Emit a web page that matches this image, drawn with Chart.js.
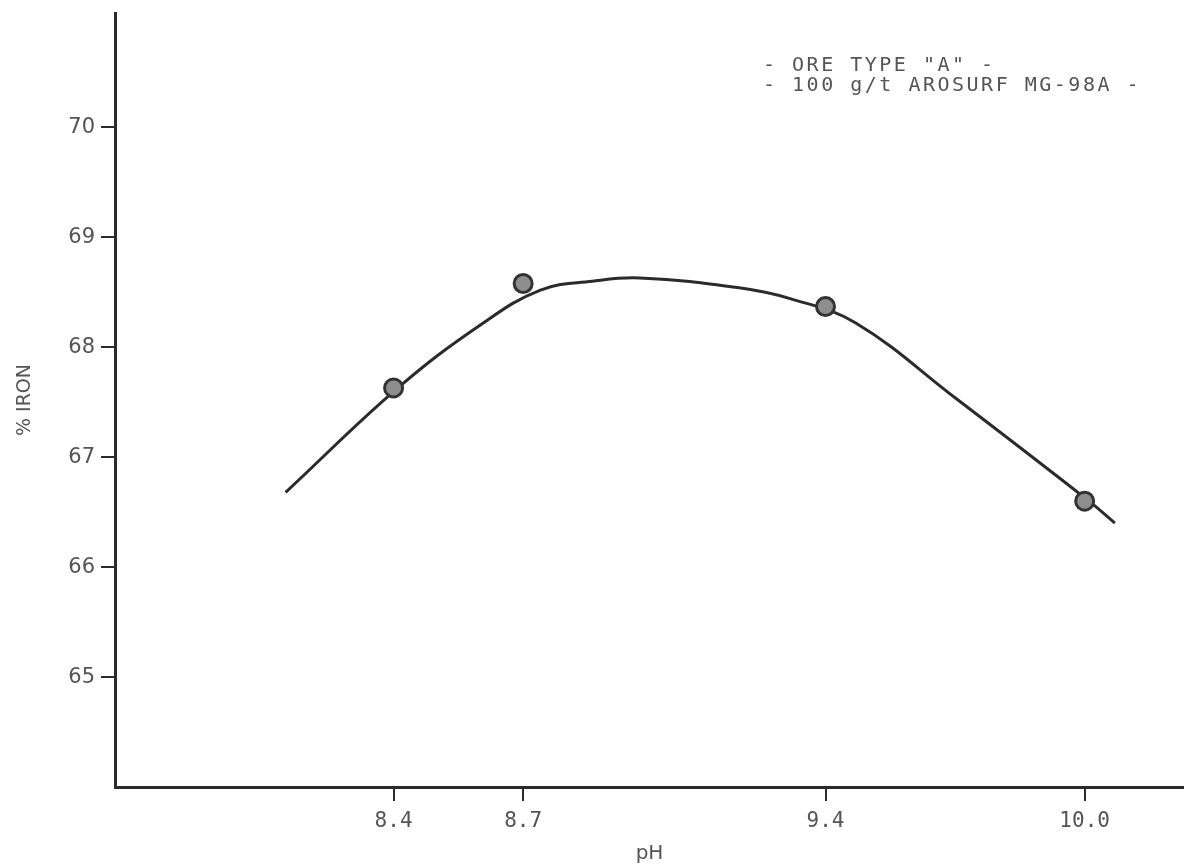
<!DOCTYPE html>
<html>
<head>
<meta charset="utf-8">
<script src="https://cdn.jsdelivr.net/npm/chart.js@4/dist/chart.umd.min.js"></script>
<style>
  html, body { margin: 0; padding: 0; background: #fff; }
  #wrap { width: 1184px; height: 866px; position: relative; }
</style>
</head>
<body>
<div id="wrap"><canvas id="ironChart"></canvas></div>
<script>
// measured points (pH vs % iron)
const phValues = [8.4, 8.7, 9.4, 10.0];
const ironValues = [67.63, 68.58, 68.37, 66.60];

// hand-drawn fitted curve
const curvePh = [8.15, 8.41, 8.60, 8.74, 8.86, 8.97, 9.20, 9.32, 9.47, 9.70, 10.01, 10.07];
const curveIron = [66.68, 67.63, 68.20, 68.52, 68.60, 68.63, 68.54, 68.44, 68.22, 67.54, 66.60, 66.40];

const xTicks = [8.4, 8.7, 9.4, 10.0];
const yTicks = [65, 66, 67, 68, 69, 70];

const legendLines = ['- ORE TYPE "A" -', '- 100 g/t AROSURF MG-98A -'];

const ink = '#2b2b2b';
const textGray = '#555';

// two line caption in the top right corner
const captionPlugin = {
    id: 'caption',
    afterDraw(chart) {
        const ctx = chart.ctx;
        ctx.save();
        ctx.fillStyle = textGray;
        ctx.font = '20px "DejaVu Sans Mono"';
        ctx.textBaseline = 'alphabetic';
        ctx.textAlign = 'left';
        if ('letterSpacing' in ctx) ctx.letterSpacing = '2.5px';
        ctx.fillText(legendLines[0], 763, 71);
        ctx.fillText(legendLines[1], 763, 91);
        ctx.restore();
    }
};

const ctx = document.getElementById('ironChart').getContext('2d');

const ironChart = new Chart(ctx, {
    type: 'scatter',
    data: {
        datasets: [
            {
                label: 'measured',
                data: phValues.map((p, i) => ({ x: p, y: ironValues[i] })),
                showLine: false,
                pointRadius: 9,
                pointBorderWidth: 3,
                pointBorderColor: '#333',
                pointBackgroundColor: '#8e8e8e',
                order: 0
            },
            {
                label: 'curve',
                data: curvePh.map((p, i) => ({ x: p, y: curveIron[i] })),
                showLine: true,
                borderColor: ink,
                borderWidth: 3,
                pointRadius: 0,
                tension: 0.4,
                order: 1
            }
        ]
    },
    options: {
        responsive: true,
        maintainAspectRatio: false,
        animation: false,
        layout: { autoPadding: false, padding: { top: 13, right: 0, left: 0, bottom: 0 } },
        plugins: {
            legend: { display: false },
            tooltip: { enabled: false }
        },
        scales: {
            x: {
                type: 'linear',
                min: 7.755,
                max: 10.23,
                afterBuildTicks: scale => { scale.ticks = xTicks.map(v => ({ value: v })); },
                afterFit: scale => { scale.height = 79; },
                grid: { drawOnChartArea: false, drawTicks: true, tickLength: 14, tickColor: ink, lineWidth: 2 },
                border: { display: true, color: ink, width: 3 },
                ticks: {
                    padding: 8,
                    color: textGray,
                    font: { family: '"DejaVu Sans Mono"', size: 21 },
                    maxRotation: 0,
                    callback: value => Number(value).toFixed(1)
                },
                title: {
                    display: true,
                    text: 'pH',
                    color: textGray,
                    font: { family: '"DejaVu Sans"', size: 20 },
                    padding: { top: 0, bottom: 0 }
                }
            },
            y: {
                type: 'linear',
                min: 64,
                max: 71.04,
                afterBuildTicks: scale => { scale.ticks = yTicks.map(v => ({ value: v })); },
                afterFit: scale => {
                    scale.width = 115;
                    // no label overflow room needed at the ends of this axis
                    scale.paddingTop = 0;
                    scale.paddingBottom = 0;
                },
                grid: { drawOnChartArea: false, drawTicks: true, tickLength: 14, tickColor: ink, lineWidth: 2 },
                border: { display: true, color: ink, width: 3 },
                ticks: {
                    padding: 6,
                    color: textGray,
                    font: { family: '"DejaVu Sans"', size: 21 }
                },
                title: {
                    display: true,
                    text: '% IRON',
                    color: textGray,
                    font: { family: '"DejaVu Sans"', size: 19 },
                    padding: { top: 14, bottom: 0 }
                }
            }
        }
    },
    plugins: [captionPlugin]
});
</script>
</body>
</html>
